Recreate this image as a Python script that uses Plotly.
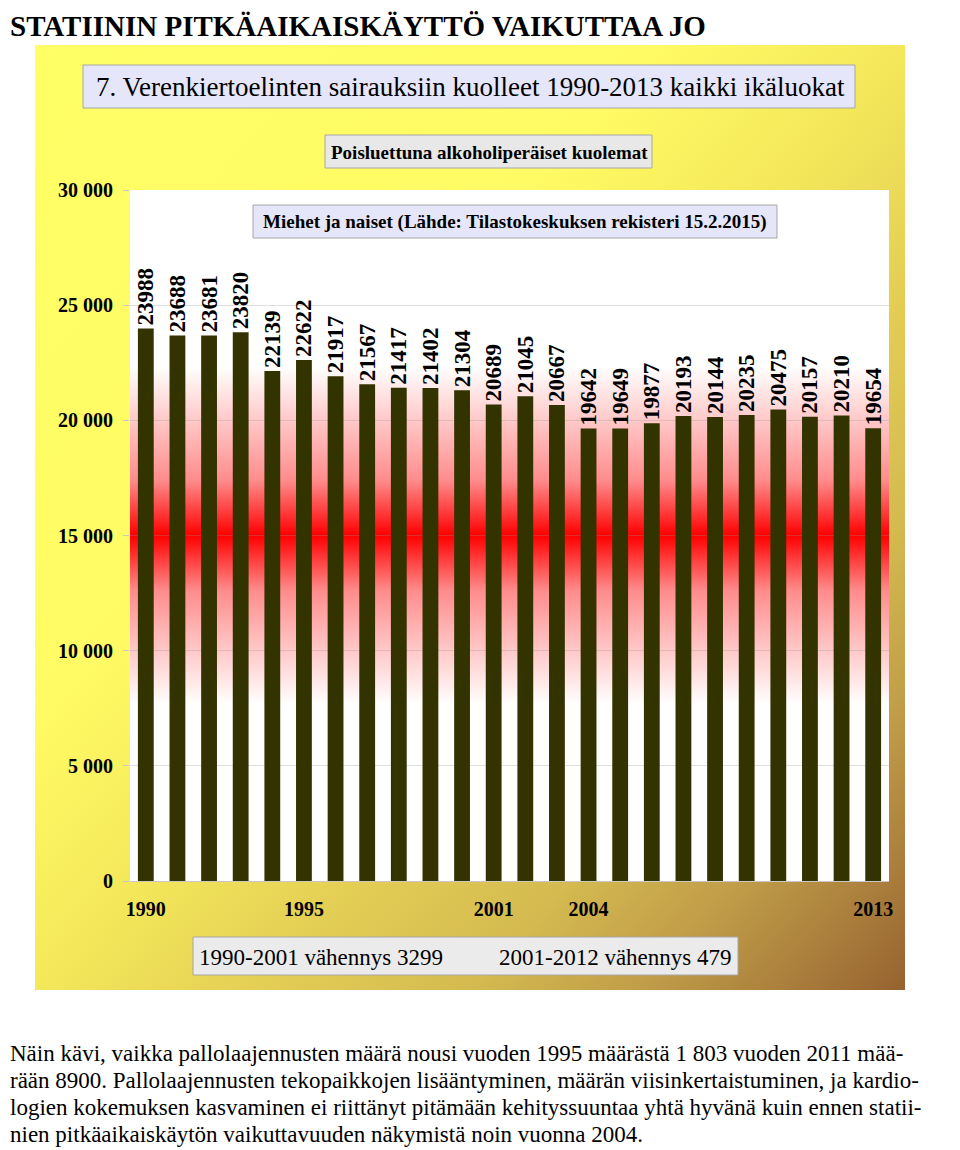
import base64
import plotly.graph_objects as go

# ---------------- data ----------------
years = [str(y) for y in range(1990, 2014)]
deaths = [23988, 23688, 23681, 23820, 22139, 22622, 21917, 21567, 21417, 21402,
          21304, 20689, 21045, 20667, 19642, 19649, 19877, 20193, 20144, 20235,
          20475, 20157, 20210, 19654]
x_tick_years = ["1990", "1995", "2001", "2004", "2013"]
y_tick_vals = [0, 5000, 10000, 15000, 20000, 25000, 30000]
y_tick_text = ["0", "5 000", "10 000", "15 000", "20 000", "25 000", "30 000"]

page_title = "STATIININ PITKÄAIKAISKÄYTTÖ VAIKUTTAA JO"
chart_title = "7. Verenkiertoelinten sairauksiin kuolleet 1990-2013 kaikki ikäluokat"
subtitle1 = "Poisluettuna alkoholiperäiset kuolemat"
subtitle2 = "Miehet ja naiset (Lähde: Tilastokeskuksen rekisteri 15.2.2015)"
note_left = "1990-2001 vähennys 3299"
note_right = "2001-2012 vähennys 479"
paragraph = [
    "Näin kävi, vaikka pallolaajennusten määrä nousi vuoden 1995 määrästä 1 803 vuoden 2011 mää-",
    "rään 8900. Pallolaajennusten tekopaikkojen lisääntyminen, määrän viisinkertaistuminen, ja kardio-",
    "logien kokemuksen kasvaminen ei riittänyt pitämään kehityssuuntaa yhtä hyvänä kuin ennen statii-",
    "nien pitkäaikaiskäytön vaikuttavuuden näkymistä noin vuonna 2004.",
]

# ---------------- geometry helpers (page pixel -> paper) ----------------
PAGE_W, PAGE_H = 960, 1150
OFF = 8                      # browser body margin
W, H = PAGE_W - OFF, PAGE_H - OFF
L, R, T, B = 130, 889, 190, 881   # plot area in page pixels


def px(x):
    return (x - L) / (R - L)


def py(y):
    return (B - y) / (B - T)


SERIF = "Liberation Serif, Times New Roman, serif"


def svg_uri(svg):
    return "data:image/svg+xml;base64," + base64.b64encode(svg.encode()).decode()


panel_svg = (
    '<svg xmlns="http://www.w3.org/2000/svg" width="870" height="945" viewBox="0 0 870 945" '
    'preserveAspectRatio="none"><defs><linearGradient id="g" x1="0" y1="0" x2="1" y2="1">'
    '<stop offset="0" stop-color="#FFFF66"/>'
    '<stop offset="0.36" stop-color="#FFFB64"/>'
    '<stop offset="0.5" stop-color="#F4E85A"/>'
    '<stop offset="0.64" stop-color="#E2CC54"/>'
    '<stop offset="0.75" stop-color="#D4BA50"/>'
    '<stop offset="0.85" stop-color="#C09C48"/>'
    '<stop offset="0.93" stop-color="#AA7E3C"/>'
    '<stop offset="1" stop-color="#966230"/>'
    '</linearGradient></defs><rect width="870" height="945" fill="url(#g)"/></svg>'
)

plot_svg = (
    '<svg xmlns="http://www.w3.org/2000/svg" width="759" height="691" viewBox="0 0 759 691" '
    'preserveAspectRatio="none"><defs><linearGradient id="r" x1="0" y1="0" x2="0" y2="1">'
    '<stop offset="0" stop-color="#FFFFFF"/>'
    '<stop offset="0.255" stop-color="#FFFFFF"/>'
    '<stop offset="0.42" stop-color="#FF8C8C"/>'
    '<stop offset="0.5" stop-color="#FF0000"/>'
    '<stop offset="0.58" stop-color="#FF8C8C"/>'
    '<stop offset="0.745" stop-color="#FFFFFF"/>'
    '<stop offset="1" stop-color="#FFFFFF"/>'
    '</linearGradient></defs><rect width="759" height="691" fill="url(#r)"/></svg>'
)

fig = go.Figure()
fig.add_trace(go.Bar(
    x=years, y=deaths,
    marker=dict(color="#333300", line=dict(width=0)),
    text=[str(v) for v in deaths],
    textposition="outside",
    textangle=-90,
    constraintext="none",
    cliponaxis=False,
    textfont=dict(family=SERIF, size=23, color="black", weight="bold"),
    hoverinfo="x+y",
))


def box(x0, y0, x1, y1, fill, line="#A6A6A6"):
    return dict(type="rect", xref="paper", yref="paper",
                x0=px(x0), x1=px(x1), y0=py(y1), y1=py(y0),
                fillcolor=fill, line=dict(color=line, width=1), layer="above")


shapes = [
    box(83, 65, 855, 108, "#E6E6FA"),
    box(325, 135, 652, 168, "#E8E8E8"),
    box(253, 205, 777, 238, "#E6E6FA"),
    box(193, 937, 738, 975, "#EBEBEB"),
]

annotations = [
    dict(text="<b>" + page_title + "</b>", x=px(OFF), y=py(OFF), xanchor="left", yanchor="top",
         font=dict(family=SERIF, size=29, color="black")),
    dict(text=chart_title, x=px(470), y=py(87), xanchor="center", yanchor="middle",
         font=dict(family=SERIF, size=27, color="black")),
    dict(text="<b>" + subtitle1 + "</b>", x=px(489), y=py(152), xanchor="center", yanchor="middle",
         font=dict(family=SERIF, size=19, color="black")),
    dict(text="<b>" + subtitle2 + "</b>", x=px(515), y=py(222), xanchor="center", yanchor="middle",
         font=dict(family=SERIF, size=19, color="black")),
    dict(text=note_left, x=px(197), y=py(957), xanchor="left", yanchor="middle",
         font=dict(family=SERIF, size=23, color="black")),
    dict(text=note_right, x=px(734), y=py(957), xanchor="right", yanchor="middle",
         font=dict(family=SERIF, size=23, color="black")),
]
for i, line in enumerate(paragraph):
    annotations.append(dict(text=line, x=px(OFF), y=py(1053 + 27 * i), xanchor="left",
                            yanchor="middle", font=dict(family=SERIF, size=23, color="black")))
for a in annotations:
    a.update(xref="paper", yref="paper", showarrow=False)

images = [
    dict(source=svg_uri(panel_svg), xref="paper", yref="paper",
         x=px(35), y=py(45), sizex=px(905) - px(35), sizey=py(45) - py(990),
         xanchor="left", yanchor="top", sizing="stretch", layer="below"),
    dict(source=svg_uri(plot_svg), xref="x domain", yref="y domain",
         x=0, y=1, sizex=1, sizey=1, xanchor="left", yanchor="top",
         sizing="stretch", layer="below"),
]

fig.update_layout(
    width=W, height=H, autosize=False,
    margin=dict(l=L - OFF, r=PAGE_W - R, t=T - OFF, b=PAGE_H - B, pad=0),
    paper_bgcolor="white",
    plot_bgcolor="rgba(0,0,0,0)",
    showlegend=False,
    bargap=0.5,
    shapes=shapes,
    annotations=annotations,
    images=images,
    xaxis=dict(
        type="category", categoryorder="array", categoryarray=years,
        tickmode="array", tickvals=x_tick_years, ticktext=x_tick_years,
        showgrid=False, zeroline=False,
        showline=True, linecolor="#C8C8C8", linewidth=1,
        ticks="", ticklabelstandoff=10,
        tickfont=dict(family=SERIF, size=20, color="black", weight="bold"),
    ),
    yaxis=dict(
        range=[0, 30000], tickmode="array", tickvals=y_tick_vals, ticktext=y_tick_text,
        showgrid=True, gridcolor="rgba(150,150,150,0.3)", gridwidth=1,
        zeroline=False, showline=False,
        ticks="outside", ticklen=6, tickcolor="#C8C8C8",
        ticklabelstandoff=6,
        tickfont=dict(family=SERIF, size=20, color="black", weight="bold"),
    ),
)

fig.write_html("out.html")
